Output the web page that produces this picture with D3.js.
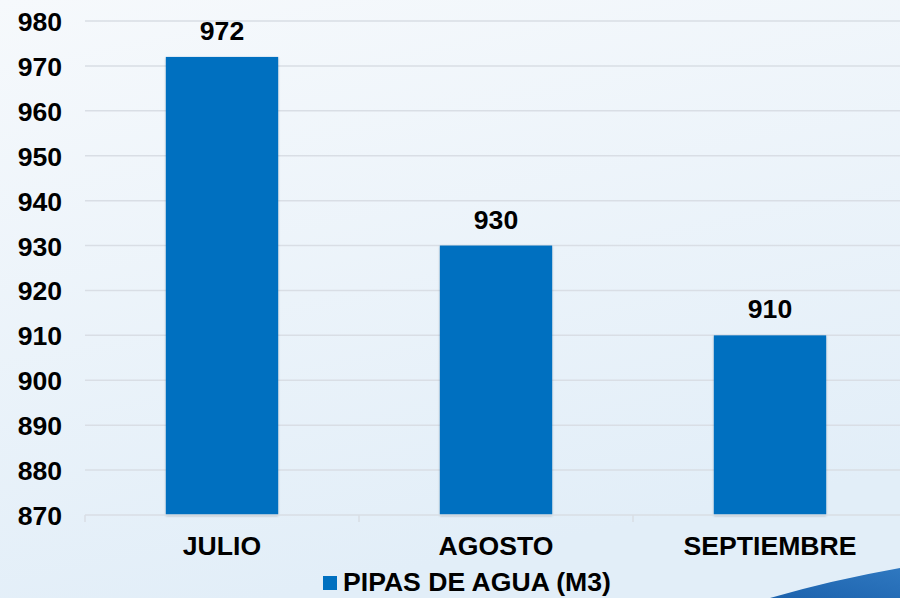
<!DOCTYPE html>
<html>
<head>
<meta charset="utf-8">
<script src="https://cdn.jsdelivr.net/npm/d3@7"></script>
<style>
  html, body { margin: 0; padding: 0; }
  body { width: 900px; height: 598px; overflow: hidden; }
  text { font-family: "Liberation Sans", Arial, sans-serif; font-weight: bold; fill: #000; }
</style>
</head>
<body>
<svg id="canvas"></svg>
<script>
// Chart data.
var categories = ['JULIO', 'AGOSTO', 'SEPTIEMBRE'];
var values = [972, 930, 910];
var yTicks = [870, 880, 890, 900, 910, 920, 930, 940, 950, 960, 970, 980];
var seriesName = 'PIPAS DE AGUA (M3)';

// Canvas dimensions.
var canvasWidth = 900;
var canvasHeight = 598;

// Plot area.
var plotLeft = 85;
var plotRight = 907;
var plotTop = 21;
var plotBottom = 515;
var fontSize = 26.6;

var svg = d3.select('#canvas')
            .attr('width', canvasWidth)
            .attr('height', canvasHeight);

// Background gradient.
var defs = svg.append('defs');
var bg = defs.append('linearGradient')
             .attr('id', 'bg')
             .attr('x1', '0').attr('y1', '0')
             .attr('x2', '0.3').attr('y2', '1');
bg.append('stop').attr('offset', '0').attr('stop-color', '#f6f9fc');
bg.append('stop').attr('offset', '1').attr('stop-color', '#e2eef8');

var swoosh = defs.append('linearGradient')
                 .attr('id', 'swoosh')
                 .attr('x1', '0').attr('y1', '1')
                 .attr('x2', '1').attr('y2', '0');
swoosh.append('stop').attr('offset', '0').attr('stop-color', '#1c62ad');
swoosh.append('stop').attr('offset', '1').attr('stop-color', '#2f78c0');

var shadow = defs.append('filter').attr('id', 'shadow')
                 .attr('x', '-10%').attr('y', '-10%')
                 .attr('width', '130%').attr('height', '130%');
shadow.append('feDropShadow')
      .attr('dx', 0).attr('dy', 1).attr('stdDeviation', 1)
      .attr('flood-color', '#000').attr('flood-opacity', 0.25);

svg.append('rect')
   .attr('width', canvasWidth)
   .attr('height', canvasHeight)
   .attr('fill', 'url(#bg)');

// Blue swoosh in the bottom right corner.
svg.append('path')
   .attr('d', 'M770,598 Q832,580 900,568 L900,598 Z')
   .attr('fill', 'url(#swoosh)');

// Scales.
var xScale = d3.scaleBand()
               .domain(categories)
               .range([plotLeft, plotRight])
               .paddingInner(0.59)
               .paddingOuter(0.295);

var yScale = d3.scaleLinear()
               .domain([870, 980])
               .range([plotBottom, plotTop]);

// Gridlines.
svg.append('g')
   .selectAll('line')
   .data(yTicks.slice(1))
   .enter()
   .append('line')
   .attr('x1', plotLeft)
   .attr('x2', plotRight)
   .attr('y1', function(d) { return yScale(d); })
   .attr('y2', function(d) { return yScale(d); })
   .attr('stroke', '#d9dee5')
   .attr('stroke-width', 1.5);

// Y axis labels.
var yAxis = d3.axisLeft(yScale).tickValues(yTicks).tickSize(0).tickPadding(23);
var yAxisG = svg.append('g')
                .attr('transform', 'translate(' + plotLeft + ',1)')
                .call(yAxis);
yAxisG.select('.domain').remove();
yAxisG.selectAll('text')
      .attr('font-family', '"Liberation Sans", Arial, sans-serif')
      .attr('font-size', fontSize)
      .attr('font-weight', 'bold')
      .attr('fill', '#000');

// Bars.
svg.append('g')
   .selectAll('rect')
   .data(values)
   .enter()
   .append('rect')
   .attr('x', function(d, i) { return xScale(categories[i]); })
   .attr('y', function(d) { return yScale(d); })
   .attr('width', xScale.bandwidth())
   .attr('height', function(d) { return plotBottom - yScale(d); })
   .attr('fill', '#0070c0')
   .attr('filter', 'url(#shadow)');

// Baseline with category tick marks.
var baseStep = xScale.step();
svg.append('line')
   .attr('x1', plotLeft).attr('x2', plotRight)
   .attr('y1', plotBottom).attr('y2', plotBottom)
   .attr('stroke', '#d9dee5').attr('stroke-width', 1.5);
svg.append('g')
   .selectAll('line')
   .data(d3.range(categories.length + 1))
   .enter()
   .append('line')
   .attr('x1', function(i) { return plotLeft + i * baseStep; })
   .attr('x2', function(i) { return plotLeft + i * baseStep; })
   .attr('y1', plotBottom)
   .attr('y2', plotBottom + 7)
   .attr('stroke', '#d9dee5').attr('stroke-width', 1.5);

// Category labels.
svg.append('g')
   .selectAll('text')
   .data(categories)
   .enter()
   .append('text')
   .attr('x', function(d) { return xScale(d) + xScale.bandwidth() / 2; })
   .attr('y', 555)
   .attr('text-anchor', 'middle')
   .attr('font-size', fontSize)
   .text(function(d) { return d; });

// Value labels.
svg.append('g')
   .selectAll('text')
   .data(values)
   .enter()
   .append('text')
   .attr('x', function(d, i) { return xScale(categories[i]) + xScale.bandwidth() / 2; })
   .attr('y', function(d) { return yScale(d) - 17; })
   .attr('text-anchor', 'middle')
   .attr('font-size', fontSize)
   .text(function(d) { return d; });

// Legend.
var legend = svg.append('g');
legend.append('rect')
      .attr('x', 323).attr('y', 576)
      .attr('width', 14).attr('height', 14)
      .attr('fill', '#0070c0');
legend.append('text')
      .attr('x', 343).attr('y', 591)
      .attr('font-size', fontSize)
      .text(seriesName);
</script>
</body>
</html>
